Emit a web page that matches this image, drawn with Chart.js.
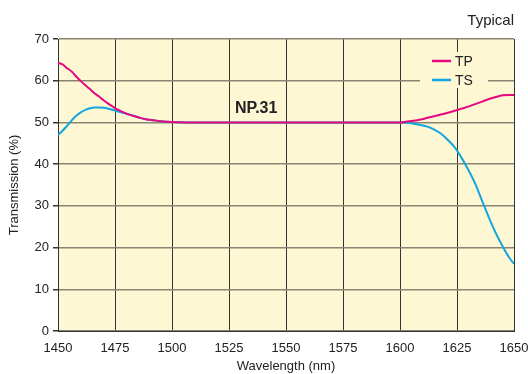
<!DOCTYPE html>
<html><head><meta charset="utf-8">
<script src="https://cdn.jsdelivr.net/npm/chart.js@4/dist/chart.umd.min.js"></script>
<style>html,body{margin:0;padding:0;background:#fff}#wrap{width:528px;height:374px}</style>
</head><body><div id="wrap"><canvas id="c" width="528" height="374"></canvas></div>
<script>
const xTicks = [1450,1475,1500,1525,1550,1575,1600,1625,1650];
const yTicks = [0,10,20,30,40,50,60,70];
const wlTP = [1450,1452,1454,1456,1458,1460,1462,1464,1466,1468,1470,1472,1474,1476,1478,1480,1483,1486,1489,1492,1495,1500,1510,1600,1603,1606,1609,1612,1615,1618,1621,1624,1627,1630,1633,1636,1639,1642,1645,1648,1650];
const tp   = [64.3,63.9,63.0,62.2,61.0,59.9,58.9,58.0,57.0,56.2,55.3,54.5,53.8,53.1,52.6,52.1,51.6,51.1,50.7,50.5,50.3,50.1,50.0,50.0,50.2,50.4,50.7,51.1,51.5,51.9,52.3,52.8,53.3,53.8,54.4,55.0,55.6,56.1,56.5,56.6,56.6];
const wlTS = [1450,1452,1454,1456,1458,1460,1462,1464,1466,1468,1470,1472,1474,1476,1478,1480,1483,1486,1489,1492,1495,1500,1510,1600,1603,1606,1609,1612,1615,1618,1621,1624,1627,1630,1633,1636,1639,1642,1645,1648,1650];
const ts   = [47.0,48.0,49.2,50.5,51.6,52.4,53.0,53.4,53.6,53.6,53.5,53.3,53.0,52.7,52.4,52.1,51.6,51.1,50.7,50.5,50.3,50.1,50.0,50.0,49.9,49.7,49.4,49.0,48.3,47.3,45.8,44.0,41.5,38.6,35.3,31.2,27.2,23.5,20.3,17.5,16.1];
const seriesNames = ['TP','TS'];
const seriesColors = ['#e5087e','#14a6e0'];

const FONT = '"Liberation Sans Narrow", "Liberation Sans", Arial, sans-serif';
const bg = {
  id:'bg',
  beforeDraw(ch){
    const a = ch.chartArea, c = ch.ctx;
    c.save(); c.fillStyle = '#fdf7d3'; c.fillRect(a.left,a.top,a.right-a.left,a.bottom-a.top); c.restore();
  },
  afterDatasetsDraw(ch){
    const c = ch.ctx, a = ch.chartArea;
    c.save();
    c.fillStyle = '#fdf7d3';
    c.fillRect(420,52,68,36);
    c.lineWidth = 2.5;
    ch.data.datasets.forEach((d,i)=>{
      const y = 61 + i*19;
      c.strokeStyle = d.borderColor;
      c.beginPath(); c.moveTo(432,y); c.lineTo(451,y); c.stroke();
      c.fillStyle = '#222'; c.font = '14px '+FONT; c.textBaseline='middle'; c.textAlign='left';
      c.fillText(d.label, 455, y+1);
    });
    c.fillStyle = '#222';
    c.font = 'bold 16px '+FONT; c.textAlign='left'; c.textBaseline='alphabetic';
    c.fillText('NP.31', 235, 113);
    c.font = '15px '+FONT; c.textAlign='right';
    c.fillText('Typical', 514, 25);
    c.strokeStyle = '#333'; c.lineWidth = 1;
    c.beginPath(); c.moveTo(a.right+0.5,a.top); c.lineTo(a.right+0.5,a.bottom); c.stroke();
    c.restore();
  }
};

new Chart(document.getElementById('c'), {
  type:'line',
  data:{datasets:[
    {label:seriesNames[0], data:wlTP.map((x,i)=>({x,y:tp[i]})), borderColor:seriesColors[0], borderWidth:2, pointRadius:0, cubicInterpolationMode:'monotone', fill:false},
    {label:seriesNames[1], data:wlTS.map((x,i)=>({x,y:ts[i]})), borderColor:seriesColors[1], borderWidth:2, pointRadius:0, cubicInterpolationMode:'monotone', fill:false}
  ]},
  options:{
    responsive:false, animation:false, devicePixelRatio:1,
    layout:{padding:{top:39,right:14,left:0,bottom:0}},
    plugins:{legend:{display:false}, tooltip:{enabled:false}},
    scales:{
      x:{type:'linear', min:1450, max:1650,
        afterBuildTicks(s){ s.ticks = xTicks.map(v=>({value:v})); },
        afterFit(s){ s.height = 43; s.paddingRight = 0; s.paddingLeft = 0; },
        grid:{color:'#333', lineWidth:1, drawTicks:false},
        border:{color:'#333', width:1},
        ticks:{color:'#222', font:{family:FONT, size:13}, padding:10, maxRotation:0, callback:v=>String(v)},
        title:{display:true, text:'Wavelength (nm)', color:'#222', font:{family:FONT,size:13}, padding:{top:0,bottom:0}}
      },
      y:{min:0, max:70,
        afterBuildTicks(s){ s.ticks = yTicks.map(v=>({value:v})); },
        afterFit(s){ s.width = 58; },
        grid:{color:'#8a8474', lineWidth:1.5, tickLength:5, tickColor:'#333'},
        border:{color:'#333', width:1},
        ticks:{color:'#222', font:{family:FONT, size:13}, padding:4, callback:v=>String(v)},
        title:{display:true, text:'Transmission (%)', color:'#222', font:{family:FONT,size:13}, padding:{top:7,bottom:4}}
      }
    }
  },
  plugins:[bg]
});
</script></body></html>
